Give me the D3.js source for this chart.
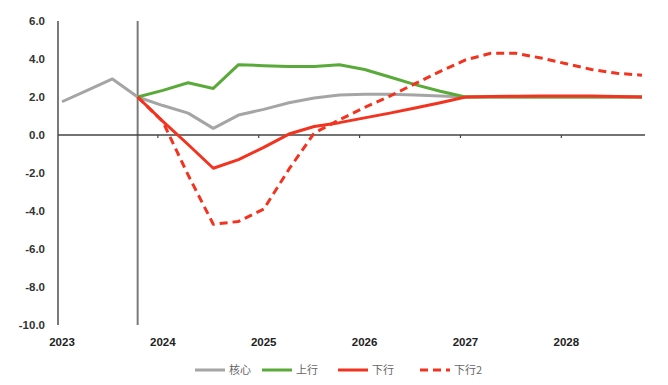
<!DOCTYPE html>
<html><head><meta charset="utf-8">
<script src="https://cdn.jsdelivr.net/npm/d3@7"></script>
<style>
html,body{margin:0;padding:0;background:#fff;}
svg{display:block;}
</style></head>
<body>
<svg id="chart" width="668" height="385"></svg>
<script>
const quarters = [];
for (let y = 2023; y <= 2028; y++) for (let q = 1; q <= 4; q++) quarters.push(y + "Q" + q);
const yearLabels = ["2023","2024","2025","2026","2027","2028"];
const yTicks = [6,4,2,0,-2,-4,-6,-8,-10];

const core  = [1.75,2.35,2.95,2.0,1.55,1.15,0.35,1.05,1.35,1.7,1.95,2.1,2.15,2.15,2.1,2.05,2.0,2.0,2.0,2.0,2.0,2.0,2.0,2.0];
const up    = [null,null,null,2.0,2.35,2.75,2.45,3.7,3.65,3.6,3.6,3.7,3.45,3.05,2.65,2.3,2.0,2.0,2.0,2.0,2.0,2.0,2.0,2.0];
const down  = [null,null,null,2.0,0.72,-0.5,-1.75,-1.3,-0.65,0.05,0.45,0.65,0.9,1.15,1.42,1.7,2.0,2.02,2.04,2.05,2.05,2.05,2.03,2.0];
const down2 = [null,null,null,2.0,0.7,-2.1,-4.7,-4.55,-3.9,-1.8,0.1,0.8,1.45,2.05,2.7,3.35,3.95,4.3,4.3,4.05,3.75,3.45,3.25,3.15];

const seriesNames = ["核心","上行","下行","下行2"];
const seriesData = [core, up, down, down2];
const seriesColors = ["#a5a5a5","#5aaa3a","#f2331f","#f2331f"];
const seriesDash = [null, null, null, "8,5"];

const svg = d3.select("#chart");
const x = d3.scalePoint().domain(quarters).range([62, 642]);
const y = d3.scaleLinear().domain([-10, 6]).range([325, 21]);

// left axis line
svg.append("line").attr("x1",58).attr("x2",58).attr("y1",y(6)).attr("y2",y(-10))
  .attr("stroke","#7a7a7a").attr("stroke-width",2);
// vertical marker at 2023Q4
svg.append("line").attr("x1",x("2023Q4")).attr("x2",x("2023Q4")).attr("y1",y(6)).attr("y2",y(-10))
  .attr("stroke","#7a7a7a").attr("stroke-width",2);

// y labels
svg.append("g").selectAll("text").data(yTicks).join("text")
  .attr("x",45).attr("y",d=>y(d)).attr("dy","0.35em").attr("text-anchor","end")
  .attr("font-family","Liberation Sans, Arial, sans-serif").attr("font-weight","bold")
  .attr("font-size",11.5).attr("fill","#333")
  .text(d=>d.toFixed(1));

// zero line
svg.append("line").attr("x1",58).attr("x2",645).attr("y1",y(0)).attr("y2",y(0))
  .attr("stroke","#444").attr("stroke-width",1.5);
// ticks
svg.append("g").selectAll("line").data(yearLabels.slice(1)).join("line")
  .attr("x1",d=>x(d+"Q1")-5).attr("x2",d=>x(d+"Q1")-5)
  .attr("y1",y(0)).attr("y2",y(0)+3).attr("stroke","#444").attr("stroke-width",1.2);

// x labels
svg.append("g").selectAll("text").data(yearLabels).join("text")
  .attr("x",d=>x(d+"Q1")).attr("y",346).attr("text-anchor","middle")
  .attr("font-family","Liberation Sans, Arial, sans-serif").attr("font-weight","bold")
  .attr("font-size",11.5).attr("fill","#222")
  .text(d=>d);

// lines
const line = d3.line().defined(d=>d.v!=null).x(d=>x(d.q)).y(d=>y(d.v));
seriesData.forEach((arr,i)=>{
  svg.append("path")
    .datum(arr.map((v,j)=>({q:quarters[j], v})))
    .attr("d", line)
    .attr("fill","none")
    .attr("stroke", seriesColors[i])
    .attr("stroke-width", 3)
    .attr("stroke-linejoin","round")
    .attr("stroke-dasharray", seriesDash[i]);
});

// legend
const legendX = [195, 262, 338, 420];
const lg = svg.append("g");
seriesNames.forEach((n,i)=>{
  lg.append("line").attr("x1",legendX[i]).attr("x2",legendX[i]+30).attr("y1",370).attr("y2",370)
    .attr("stroke",seriesColors[i]).attr("stroke-width",3).attr("stroke-dasharray",seriesDash[i]);
  lg.append("text").attr("x",legendX[i]+34).attr("y",370).attr("dy","0.35em")
    .attr("font-family","Noto Sans CJK SC, sans-serif").attr("font-size",11).attr("fill","#666")
    .text(n);
});
</script>
</body></html>
